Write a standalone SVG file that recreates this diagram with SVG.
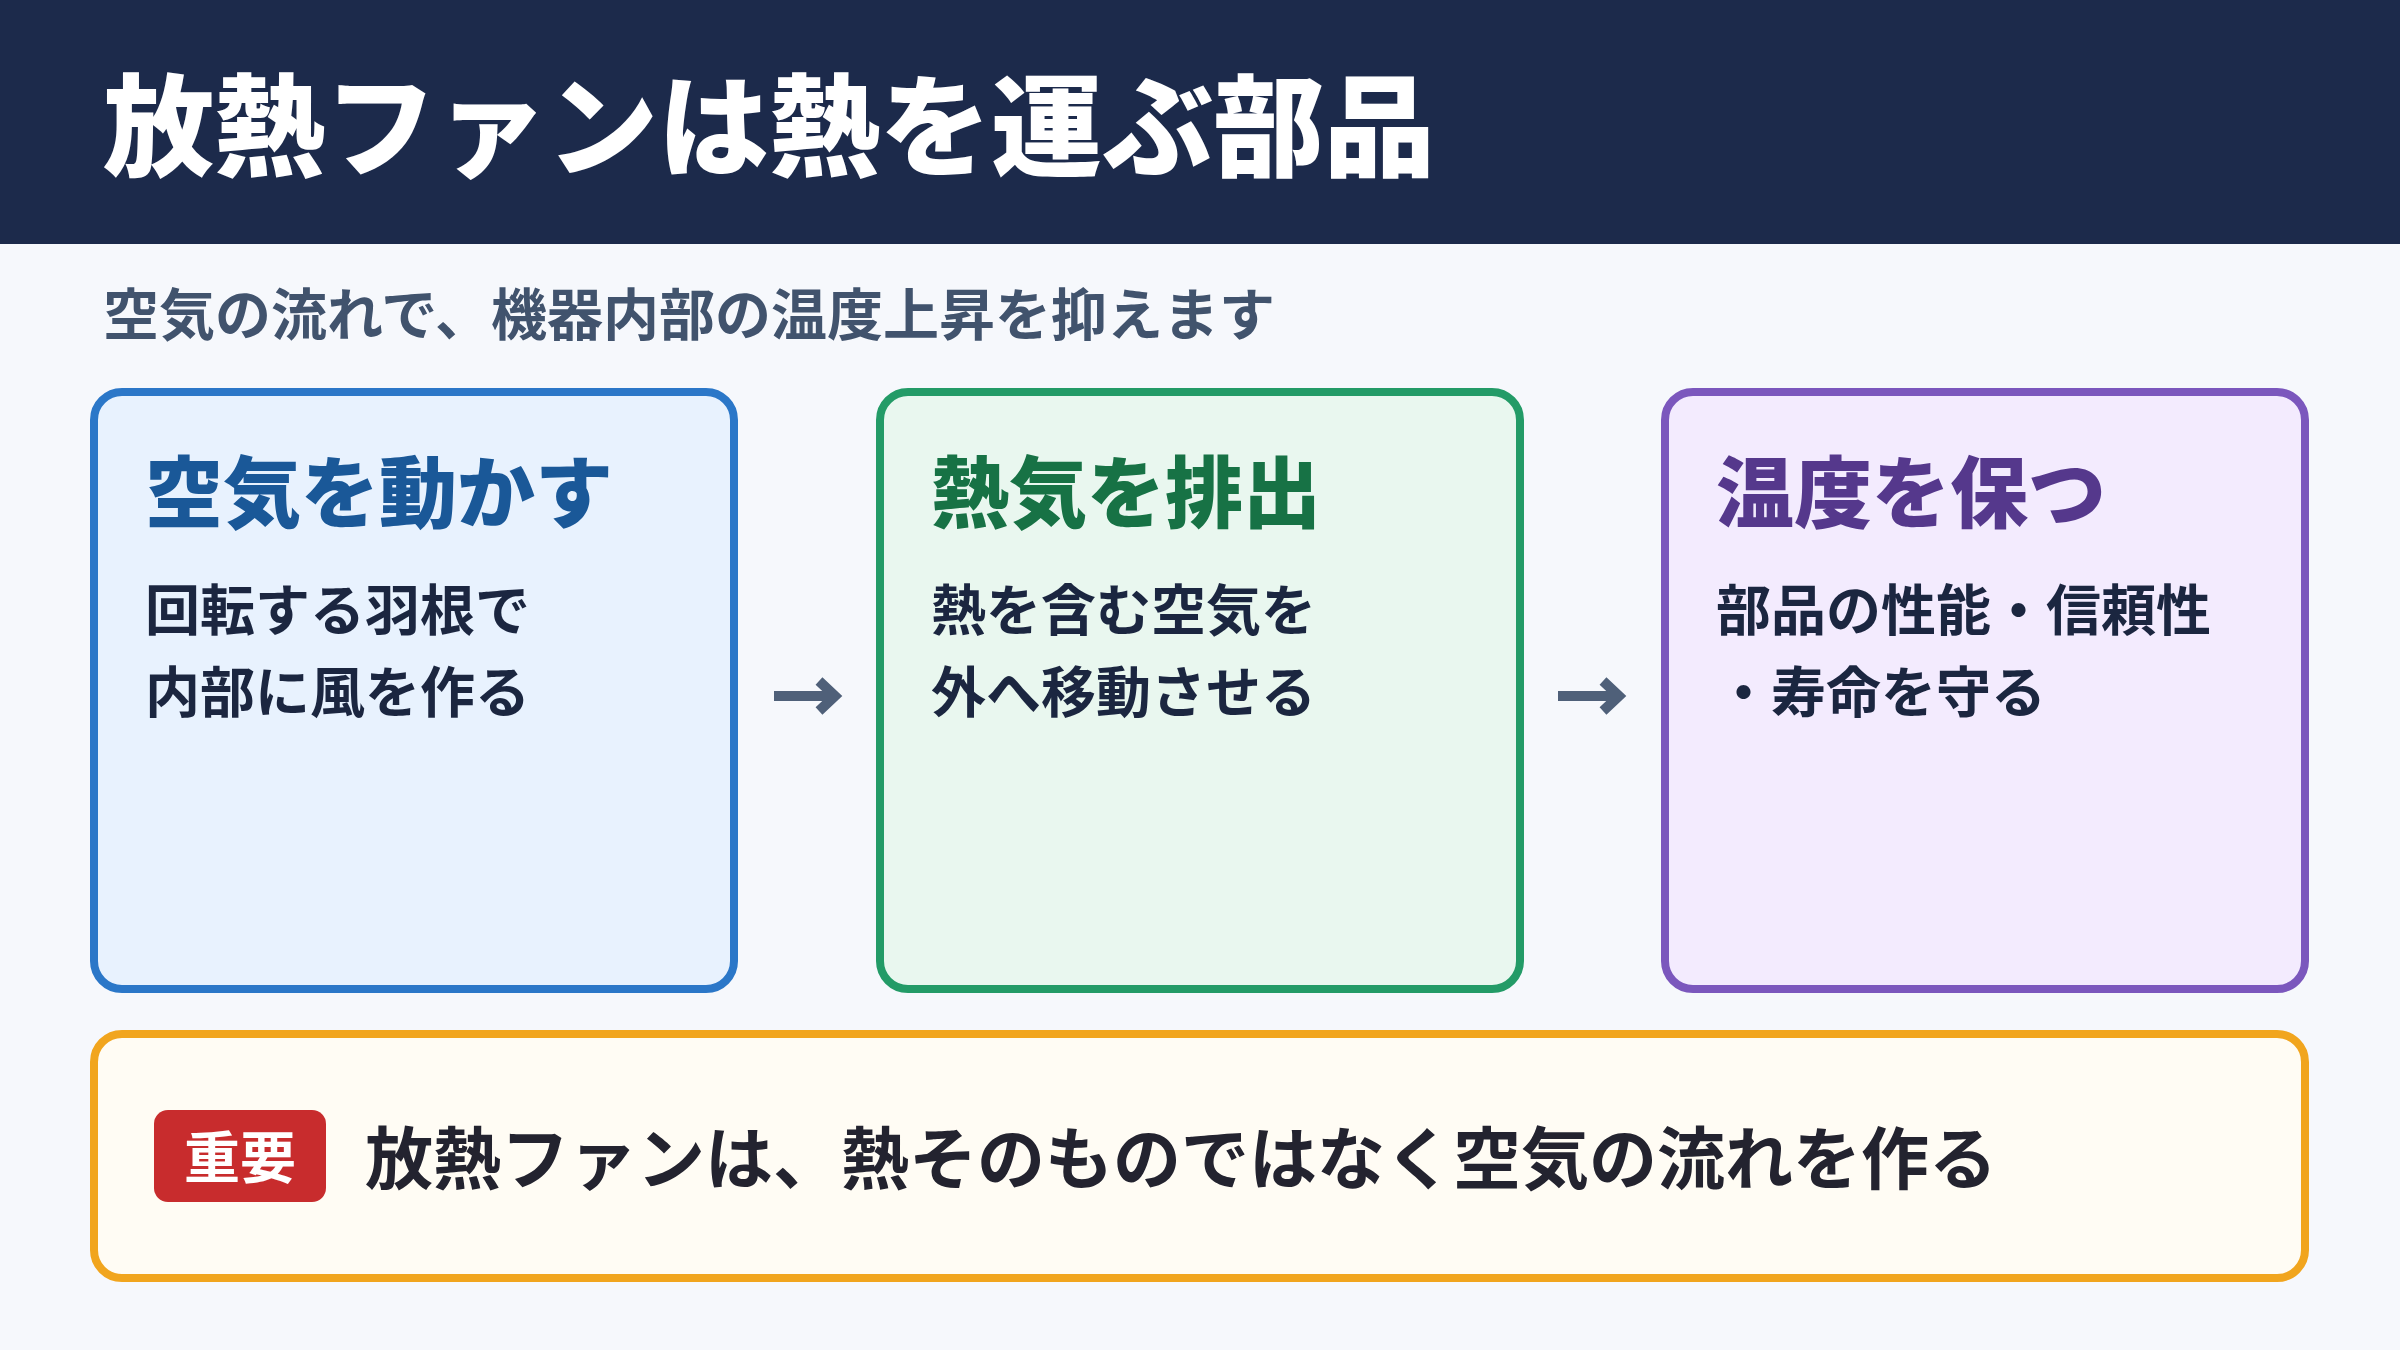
<svg xmlns="http://www.w3.org/2000/svg" width="2400" height="1350" viewBox="0 0 2400 1350">
  <style>
    text { font-family: "Noto Sans CJK JP", "Noto Sans CJK SC", sans-serif; font-weight: 700; }
    .title { font-size: 111px; fill: #ffffff; font-weight: 900; }
    .sub { font-size: 56px; fill: #41536d; }
    .card { stroke-width: 8; }
    .ctitle { font-size: 78px; font-weight: 900; }
    .body { font-size: 55px; fill: #1b2640; }
    .arrow { fill: none; stroke: #4f6079; stroke-width: 10; stroke-linejoin: miter; }
    .note { font-size: 68px; fill: #23232f; }
    .badge { font-size: 56px; fill: #ffffff; }
  </style>
  <rect x="0" y="0" width="2400" height="1350" fill="#f6f8fc"/>
  <g id="header">
    <rect x="0" y="0" width="2400" height="244" fill="#1c2a4b"/>
    <text class="title" x="103" y="168">放熱ファンは熱を運ぶ部品</text>
  </g>
  <g id="subtitle">
    <text class="sub" x="103" y="335">空気の流れで、機器内部の温度上昇を抑えます</text>
  </g>
  <g id="card-move-air">
    <rect class="card" x="94" y="392" width="640" height="597" rx="28" fill="#e8f2fe" stroke="#2b77c8"/>
    <text class="ctitle" x="145" y="522" fill="#1a5898">空気を動かす</text>
    <text class="body" x="145" y="630">回転する羽根で</text>
    <text class="body" x="145" y="712">内部に風を作る</text>
  </g>
  <g id="card-exhaust">
    <rect class="card" x="880" y="392" width="640" height="597" rx="28" fill="#e9f7ef" stroke="#239b67"/>
    <text class="ctitle" x="931" y="522" fill="#177245">熱気を排出</text>
    <text class="body" x="931" y="630">熱を含む空気を</text>
    <text class="body" x="931" y="712">外へ移動させる</text>
  </g>
  <g id="card-keep-temp">
    <rect class="card" x="1665" y="392" width="640" height="597" rx="28" fill="#f3ebfe" stroke="#7b57bd"/>
    <text class="ctitle" x="1716" y="522" fill="#55388c">温度を保つ</text>
    <text class="body" x="1716" y="630">部品の性能・信頼性</text>
    <text class="body" x="1716" y="712">・寿命を守る</text>
  </g>
  <g id="connectors">
    <path class="arrow" d="M774 696 H836 M819 681 L835 696 L819 711"/>
    <path class="arrow" d="M1558 696 H1620 M1603 681 L1619 696 L1603 711"/>
  </g>
  <g id="note">
    <rect x="94" y="1034" width="2211" height="244" rx="28" fill="#fffcf4" stroke="#f1a51e" stroke-width="8"/>
    <rect x="154" y="1110" width="172" height="92" rx="14" fill="#c82c2d"/>
    <text class="badge" x="240" y="1178" text-anchor="middle">重要</text>
    <text class="note" x="365" y="1184">放熱ファンは、熱そのものではなく空気の流れを作る</text>
  </g>
</svg>
